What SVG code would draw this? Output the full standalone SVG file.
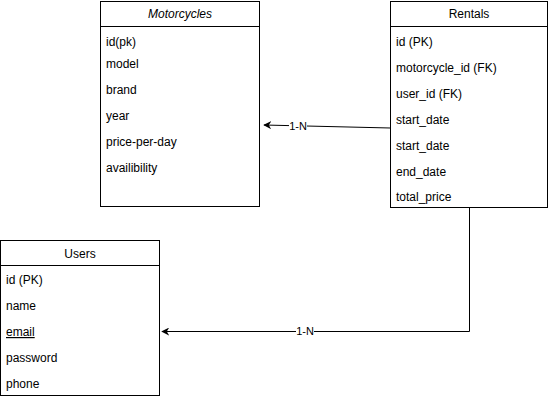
<svg xmlns="http://www.w3.org/2000/svg" width="549" height="400" viewBox="0 0 549 400">
<style>
.box{fill:#fff;stroke:#000;stroke-width:1}
.t{font-family:"Liberation Sans",Arial,sans-serif;font-size:12px;fill:#000}
.h{text-anchor:middle}
.c{fill:none;stroke:#000;stroke-width:1}
.lbl{font-family:"Liberation Sans",Arial,sans-serif;font-size:11px;fill:#000;text-anchor:middle}
</style>
<defs>
<marker id="arr" viewBox="0 0 10 10" refX="9" refY="5" markerWidth="8" markerHeight="8" orient="auto" markerUnits="userSpaceOnUse">
<path d="M0,0 L10,5 L0,10 L3,5 Z" fill="#000"/>
</marker>
</defs>
<rect width="549" height="400" fill="#fff"/>
<g id="connectors">
<path class="c" d="M390.5,128 L264,125" marker-end="url(#arr)"/>
<rect x="289" y="120" width="18" height="12" fill="#fff"/>
<text class="lbl" x="298" y="130">1-N</text>
<path class="c" d="M469.5,208 L469.5,331.5 L162,331.5" marker-end="url(#arr)"/>
<rect x="296" y="326" width="18" height="12" fill="#fff"/>
<text class="lbl" x="305" y="335">1-N</text>
</g>
<g id="motorcycles">
<rect class="box" x="100.5" y="1.5" width="159" height="205"/>
<line class="c" x1="100.5" y1="26.5" x2="259.5" y2="26.5"/>
<text class="t h" x="180" y="18" font-style="italic">Motorcycles</text>
<text class="t" x="106" y="46">id(pk)</text>
<text class="t" x="106" y="68">model</text>
<text class="t" x="106" y="94">brand</text>
<text class="t" x="106" y="120">year</text>
<text class="t" x="106" y="146">price-per-day</text>
<text class="t" x="106" y="172">availibility</text>
</g>
<g id="rentals">
<rect class="box" x="390.5" y="1.5" width="157" height="206"/>
<line class="c" x1="390.5" y1="26.5" x2="547.5" y2="26.5"/>
<text class="t h" x="469" y="18">Rentals</text>
<text class="t" x="396" y="46">id (PK)</text>
<text class="t" x="396" y="72">motorcycle_id (FK)</text>
<text class="t" x="396" y="98">user_id (FK)</text>
<text class="t" x="396" y="124">start_date</text>
<text class="t" x="396" y="150">start_date</text>
<text class="t" x="396" y="176">end_date</text>
<text class="t" x="396" y="201">total_price</text>
</g>
<g id="users">
<rect class="box" x="0.5" y="240.5" width="159" height="155"/>
<line class="c" x1="0.5" y1="265.5" x2="159.5" y2="265.5"/>
<text class="t h" x="80" y="258">Users</text>
<text class="t" x="6" y="284">id (PK)</text>
<text class="t" x="6" y="310">name</text>
<text class="t" x="6" y="336" text-decoration="underline">email</text>
<text class="t" x="6" y="362">password</text>
<text class="t" x="6" y="388">phone</text>
</g>
</svg>
